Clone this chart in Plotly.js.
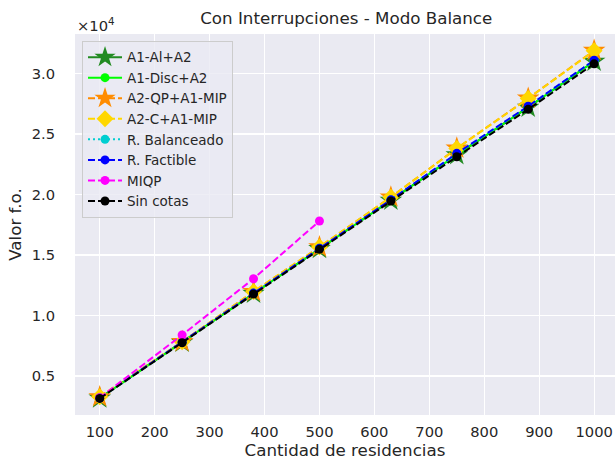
<!DOCTYPE html>
<html>
<head>
<meta charset="utf-8">
<script src="https://cdn.plot.ly/plotly-3.0.1.min.js"></script>
<style>html,body{margin:0;padding:0;background:#fff;} #chart{width:615px;height:469px;}</style>
</head>
<body>
<div id="chart"></div>
<script>
// Data
const residencias = [100, 250, 380, 500, 630, 750, 880, 1000];
const miqpResidencias = [100, 250, 380, 500];

const a1AlA2      = [3170, 7780, 11830, 15520, 19520, 23280, 27200, 31000];
const a1DiscA2    = [3170, 7780, 11830, 15520, 19520, 23280, 27200, 31000];
const a2QpA1Mip   = [3280, 7830, 11970, 15660, 19780, 23820, 27950, 31900];
const a2CA1Mip    = [3280, 7830, 11970, 15660, 19780, 23800, 27930, 31880];
const rBalanceado = [3180, 7800, 11850, 15550, 19550, 23350, 27280, 31080];
const rFactible   = [3180, 7800, 11850, 15550, 19560, 23400, 27300, 31100];
const miqp        = [3200, 8390, 13040, 17810];
const sinCotas    = [3150, 7750, 11780, 15470, 19460, 23120, 27040, 30800];

const yTickVals = [5000, 10000, 15000, 20000, 25000, 30000];
const yTickText = ["0.5", "1.0", "1.5", "2.0", "2.5", "3.0"];
const xTickVals = [100, 200, 300, 400, 500, 600, 700, 800, 900, 1000];

function tr(name, x, y, color, dash, symbol, size) {
  return {
    type: 'scatter', mode: 'lines+markers', name: name,
    x: x, y: y,
    line: {color: color, width: 2, dash: dash},
    marker: {color: color, symbol: symbol, size: size, line: {width: 0}}
  };
}

const traces = [
  tr('A1-Al+A2', residencias, a1AlA2, '#228B22', '13px,3px,2px,3px', 'star', 17),
  tr('A1-Disc+A2', residencias, a1DiscA2, '#00FF00', 'solid', 'circle', 9),
  tr('A2-QP+A1-MIP', residencias, a2QpA1Mip, '#FF8C00', '7px,3px', 'star', 17),
  tr('A2-C+A1-MIP', residencias, a2CA1Mip, '#FFD700', '7px,3px', 'diamond', 13),
  tr('R. Balanceado', residencias, rBalanceado, '#00CED1', '2px,3px', 'circle', 9),
  tr('R. Factible', residencias, rFactible, '#0000FF', '7px,3px', 'circle', 9),
  tr('MIQP', miqpResidencias, miqp, '#FF00FF', '7px,3px', 'circle', 9),
  tr('Sin cotas', residencias, sinCotas, '#000000', '7px,3px', 'circle', 9)
];

const fontFam = 'DejaVu Sans, sans-serif';
const layout = {
  width: 615, height: 469,
  paper_bgcolor: '#FFFFFF', plot_bgcolor: '#EAEAF2',
  margin: {l: 75, r: 0, t: 34, b: 54},
  font: {family: fontFam, color: '#262626', size: 14.7},
  title: {text: 'Con Interrupciones - Modo Balance', font: {size: 16.7, family: fontFam, color: '#262626'},
          x: 0.563, xanchor: 'center', y: 1 - 18/469, yanchor: 'middle', yref: 'container'},
  xaxis: {
    range: [55, 1038], tickvals: xTickVals, ticks: '', showline: false, zeroline: false,
    gridcolor: '#FFFFFF', gridwidth: 1.2, tickfont: {size: 14.7}, ticklabelstandoff: 6,
    title: {text: 'Cantidad de residencias', font: {size: 16.7}, standoff: 4}
  },
  yaxis: {
    range: [1777, 33264], tickvals: yTickVals, ticktext: yTickText, ticks: '', showline: false, zeroline: false,
    gridcolor: '#FFFFFF', gridwidth: 1.2, tickfont: {size: 14.7}, ticklabelstandoff: 19,
    title: {text: 'Valor f.o.', font: {size: 16.7}, standoff: 5}
  },
  legend: {
    x: 0.013, y: 0.982, xanchor: 'left', yanchor: 'top',
    bgcolor: 'rgba(234,234,242,0.8)', bordercolor: '#CCCCCC', borderwidth: 1,
    font: {size: 13.5, family: fontFam, color: '#262626'}, tracegroupgap: 0, itemwidth: 34
  },
  annotations: [{
    text: '×10<sup>4</sup>', xref: 'paper', yref: 'paper', x: 0, y: 1, xanchor: 'left', yanchor: 'bottom',
    showarrow: false, font: {size: 14.7, family: fontFam, color: '#262626'}, yshift: -2
  }],
  showlegend: true
};

Plotly.newPlot('chart', traces, layout, {displayModeBar: false, staticPlot: true});
</script>
</body>
</html>
